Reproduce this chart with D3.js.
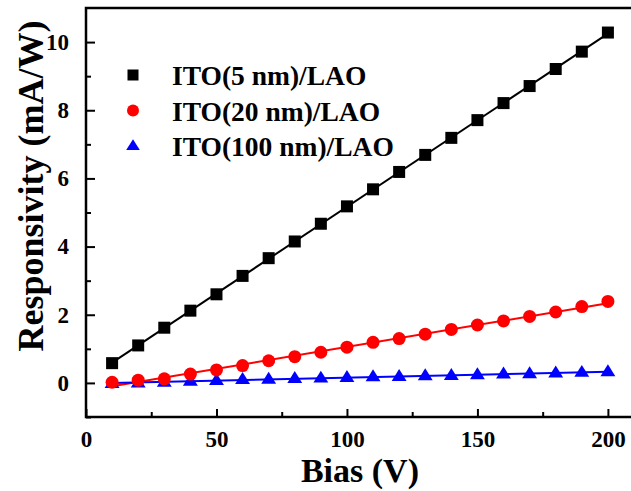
<!DOCTYPE html>
<html lang="en">
    <head>
        <meta charset="utf-8">
        <title>Responsivity vs Bias</title>
        <script src="https://cdnjs.cloudflare.com/ajax/libs/d3/7.8.5/d3.min.js"></script>
        <style type="text/css">
            body { margin: 0; background: white; }
            text { font-family: "Liberation Serif", "Times New Roman", serif; font-weight: bold; }
        </style>
    </head>
    <body>
        <script type="text/javascript">
            const bias = [10, 20, 30, 40, 50, 60, 70, 80, 90, 100, 110, 120, 130, 140, 150, 160, 170, 180, 190, 200]
            const ito5 = [0.58, 1.10, 1.62, 2.12, 2.60, 3.14, 3.66, 4.15, 4.67, 5.18, 5.68, 6.19, 6.69, 7.19, 7.71, 8.21, 8.71, 9.21, 9.72, 10.28]
            const ito20 = [0.02, 0.08, 0.12, 0.26, 0.38, 0.51, 0.65, 0.77, 0.90, 1.05, 1.19, 1.30, 1.43, 1.57, 1.70, 1.82, 1.95, 2.08, 2.24, 2.39]
            const ito100 = [-0.02, 0.0, 0.02, 0.05, 0.07, 0.10, 0.11, 0.13, 0.14, 0.16, 0.18, 0.19, 0.21, 0.22, 0.24, 0.26, 0.27, 0.29, 0.31, 0.33]
            const seriesNames = ["ITO(5 nm)/LAO", "ITO(20 nm)/LAO", "ITO(100 nm)/LAO"]
            const xTicks = [0, 50, 100, 150, 200]
            const yTicks = [0, 2, 4, 6, 8, 10]

            const w = 631
            const h = 491
            const mLeft = 86, mRight = 634, mTop = 8, mBottom = 417

            const svg = d3.select("body")
                            .append("svg")
                            .attr("width", w)
                            .attr("height", h)

            const xScale = d3.scaleLinear().domain([0, 210]).range([mLeft, mRight])
            const yScale = d3.scaleLinear().domain([-1, 11]).range([mBottom, mTop])

            const series = [
                { name: seriesNames[0], values: ito5, color: "black", shape: "square" },
                { name: seriesNames[1], values: ito20, color: "#ff0000", shape: "circle" },
                { name: seriesNames[2], values: ito100, color: "#0000ff", shape: "triangle" }
            ]

            // least squares line for each series
            function fit(xs, ys) {
                const mx = d3.mean(xs), my = d3.mean(ys)
                let sxy = 0, sxx = 0
                xs.forEach((x, i) => { sxy += (x - mx) * (ys[i] - my); sxx += (x - mx) * (x - mx) })
                const b = sxy / sxx
                return x => my + b * (x - mx)
            }

            function drawMarker(g, shape, color, cx, cy, s) {
                if (shape === "square") {
                    g.append("rect").attr("x", cx - s / 2).attr("y", cy - s / 2)
                        .attr("width", s).attr("height", s).attr("fill", color)
                } else if (shape === "circle") {
                    g.append("circle").attr("cx", cx).attr("cy", cy).attr("r", s / 2 + 0.5).attr("fill", color)
                } else {
                    const r = s * 0.62
                    g.append("path")
                        .attr("d", `M${cx},${cy - r} L${cx + r * 1.0},${cy + r * 0.6} L${cx - r * 1.0},${cy + r * 0.6} Z`)
                        .attr("fill", color)
                }
            }

            // frame
            svg.append("rect")
                .attr("x", mLeft).attr("y", mTop)
                .attr("width", mRight - mLeft).attr("height", mBottom - mTop)
                .attr("fill", "none").attr("stroke", "black").attr("stroke-width", 2.5)

            // ticks, pointing inward
            const xAxis = d3.axisBottom(xScale).tickValues(xTicks).tickSizeInner(-8).tickSizeOuter(0).tickPadding(14)
            const xMinor = d3.axisBottom(xScale).tickValues([25, 75, 125, 175]).tickSizeInner(-5).tickSizeOuter(0).tickFormat("")
            const yAxis = d3.axisLeft(yScale).tickValues(yTicks).tickSizeInner(-9).tickSizeOuter(0).tickPadding(17)
            const yMinor = d3.axisLeft(yScale).tickValues([-1, 1, 3, 5, 7, 9]).tickSizeInner(-5).tickSizeOuter(0).tickFormat("")

            function styleAxis(g) {
                g.select(".domain").remove()
                g.selectAll("line").attr("stroke", "black").attr("stroke-width", 2)
                g.selectAll("text").attr("font-size", 23).attr("fill", "black")
                    .attr("font-family", "'Liberation Serif', serif").attr("font-weight", "bold")
            }

            svg.append("g").attr("transform", `translate(0, ${mBottom})`).call(xAxis).call(styleAxis)
            svg.append("g").attr("transform", `translate(0, ${mBottom})`).call(xMinor).call(styleAxis)
            svg.append("g").attr("transform", `translate(${mLeft}, 0)`).call(yAxis).call(styleAxis)
            svg.append("g").attr("transform", `translate(${mLeft}, 0)`).call(yMinor).call(styleAxis)

            // series: fitted lines then markers
            const plot = svg.append("g")
            series.forEach(s => {
                const f = fit(bias, s.values)
                const x0 = d3.min(bias), x1 = d3.max(bias)
                plot.append("line")
                    .attr("x1", xScale(x0)).attr("y1", yScale(f(x0)))
                    .attr("x2", xScale(x1)).attr("y2", yScale(f(x1)))
                    .attr("stroke", s.color).attr("stroke-width", 2)
            })
            series.slice().reverse().forEach(s => {
                const g = plot.append("g")
                s.values.forEach((v, i) => drawMarker(g, s.shape, s.color, xScale(bias[i]), yScale(v), 12))
            })

            // legend
            const legend = svg.append("g")
            series.forEach((s, i) => {
                const y = 75 + i * 35.5
                drawMarker(legend, s.shape, s.color, 133, y, 11)
                legend.append("text")
                    .attr("x", 172).attr("y", y + 10)
                    .attr("font-size", 27.5)
                    .attr("fill", "black")
                    .text(s.name)
            })

            // axis titles
            svg.append("text")
                .attr("x", xScale(100) + 13).attr("y", 482)
                .attr("text-anchor", "middle")
                .attr("font-size", 34)
                .text("Bias (V)")

            svg.append("text")
                .attr("transform", "translate(43, 186) rotate(-90)")
                .attr("text-anchor", "middle")
                .attr("font-size", 36)
                .text("Responsivity (mA/W)")
        </script>
    </body>
</html>
